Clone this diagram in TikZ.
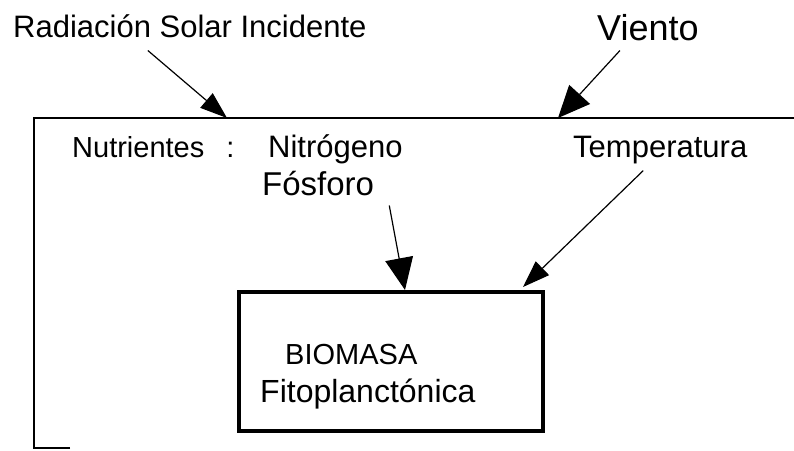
\documentclass[tikz,border=0pt]{standalone}
\usepackage{fontspec}
\setmainfont{Liberation Sans}
\usetikzlibrary{arrows.meta,calc}
\newcommand\fsz[1]{\fontsize{#1}{#1}\selectfont}
\tikzset{
  txt/.style    = {inner sep=0pt, anchor=base west},
  frame/.style  = {line width=1.5pt},
  biobox/.style = {draw, line width=4pt, minimum width=304pt,
                   minimum height=139pt, inner sep=0pt},
  flow/.style   = {line width=1.2pt},
  bigtip/.style = {flow, -{Triangle[length=32pt,width=28pt]}},
  smltip/.style = {flow, -{Triangle[length=27pt,width=19pt]}}
}
\begin{document}
\begin{tikzpicture}[x=1pt, y=-1pt]
  \useasboundingbox (0,0) rectangle (794,450);
  % lake frame (open on the right and below)
  \draw[frame] (70,448) -- (34,448) -- (34,118) -- (794,118);
  \coordinate (rad-in)    at (227,118);
  \coordinate (viento-in) at (558,118);

  \node[txt, font=\fsz{31}] (rad)     at (13,37)   {Radiación Solar Incidente};
  \node[txt, font=\fsz{36}] (viento)  at (597,40)  {Viento};
  \node[txt, font=\fsz{29}] (nutr)    at (72,157)  {Nutrientes\hspace{22pt}:};
  \node[txt, font=\fsz{31}] (nitro)   at (268,157) {Nitrógeno};
  \node[txt, font=\fsz{31}] (temp)    at (573,157) {Temperatura};
  \node[txt, font=\fsz{33}] (fosforo) at (262,195) {Fósforo};

  \node[biobox] (box) at (391,361.5) {};
  \node[txt, font=\fsz{29}] (biomasa) at (285,364) {BIOMASA};
  \node[txt, font=\fsz{32}] (fito)    at (260,402) {Fitoplanctónica};

  \draw[smltip] ([xshift=-42pt,yshift=-13pt]rad.south) -- (rad-in);
  \draw[bigtip] ([xshift=-28pt,yshift=-10pt]viento.south) -- (viento-in);
  \draw[bigtip] ([xshift=15pt,yshift=-10pt]fosforo.south east)
    -- ([xshift=14pt]box.north);
  \draw[smltip] ([xshift=-17pt,yshift=-7pt]temp.south)
    -- ([xshift=-22pt,yshift=3pt]box.north east);
\end{tikzpicture}
\end{document}
